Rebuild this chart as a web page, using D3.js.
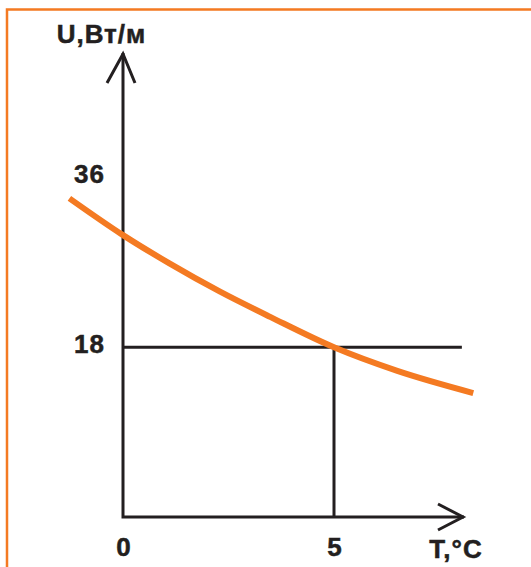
<!DOCTYPE html>
<html>
<head>
    <meta charset="utf-8">
    <title></title>
    <script src="https://d3js.org/d3.v7.min.js"></script>
    <style>
        body { margin: 0; background: #fff; }
        text { font-family: "Liberation Sans", Arial, sans-serif; font-weight: bold; fill: #231f20; stroke: #231f20; stroke-width: 0.5px; letter-spacing: 1px; }
    </style>
</head>
<body>
    <div id="chart"></div>

    <script>
        // curve: temperature (°C) -> power (W/m)
        var temps = [-1.27, 0, 1.1, 2.3, 3.5, 5, 6.5, 8.3];
        var power = [33.8, 29.9, 26.9, 23.9, 21.2, 18, 15.5, 13.15];
        var xTicks = [0, 5];
        var yTicks = [18, 36];
        var guideT = 5, guideU = 18, guideEndT = 8.03;
        var xTitle = "T,°C", yTitle = "U,Вт/м";

        var width = 531, height = 567;
        var orange = "#f47a22", ink = "#231f20";

        var svg = d3.select("#chart")
            .append("svg")
            .attr("width", width)
            .attr("height", height);

        // frame
        svg.append("rect")
            .attr("x", 7).attr("y", 9.5)
            .attr("width", 600).attr("height", 600)
            .attr("fill", "none")
            .attr("stroke", orange)
            .attr("stroke-width", 2.5);

        var x = d3.scaleLinear().domain([0, 5]).range([123, 334]);
        var y = d3.scaleLinear().domain([0, 18]).range([517, 347.3]);

        // guide lines at T=5, U=18
        svg.append("line")
            .attr("x1", x(0)).attr("x2", x(guideEndT))
            .attr("y1", y(guideU)).attr("y2", y(guideU))
            .attr("stroke", ink).attr("stroke-width", 3);
        svg.append("line")
            .attr("x1", x(guideT)).attr("x2", x(guideT))
            .attr("y1", y(0)).attr("y2", y(guideU))
            .attr("stroke", ink).attr("stroke-width", 3);

        // axes with arrows
        var ax = svg.append("g")
            .attr("fill", "none")
            .attr("stroke", ink)
            .attr("stroke-width", 3);
        ax.append("path").attr("d", "M" + x(0) + "," + 53 + "V" + y(0) + "H464");
        ax.append("path").attr("d", "M107,83L" + x(0) + ",54L135,83");
        ax.append("path").attr("d", "M438,504L463,517L438,530");

        // tick labels
        var xAxis = svg.append("g")
            .attr("transform", "translate(0," + y(0) + ")")
            .call(d3.axisBottom(x).tickValues(xTicks).tickSize(0).tickPadding(21).tickFormat(d3.format("d")));
        xAxis.select(".domain").remove();
        xAxis.selectAll("text").attr("dx", "0.5px").style("font-size", "26px");

        var yAxis = svg.append("g")
            .attr("transform", "translate(" + x(0) + ",0)")
            .call(d3.axisLeft(y).tickValues(yTicks).tickSize(0).tickPadding(18).tickFormat(d3.format("d")));
        yAxis.select(".domain").remove();
        yAxis.selectAll("text").attr("dy", "0.2em").style("font-size", "26px");

        svg.append("text")
            .attr("x", 456).attr("y", 557.5)
            .attr("text-anchor", "middle")
            .style("font-size", "26px")
            .text(xTitle);
        svg.append("text")
            .attr("x", 101.5).attr("y", 42.5)
            .attr("text-anchor", "middle")
            .style("font-size", "26px")
            .text(yTitle);

        // the curve
        var pts = temps.map(function (t, i) { return [t, power[i]]; });
        svg.append("path")
            .datum(pts)
            .attr("fill", "none")
            .attr("stroke", orange)
            .attr("stroke-width", 6)
            .attr("d", d3.line()
                .curve(d3.curveMonotoneX)
                .x(function (d) { return x(d[0]) })
                .y(function (d) { return y(d[1]) })
            );
    </script>
</body>
</html>
